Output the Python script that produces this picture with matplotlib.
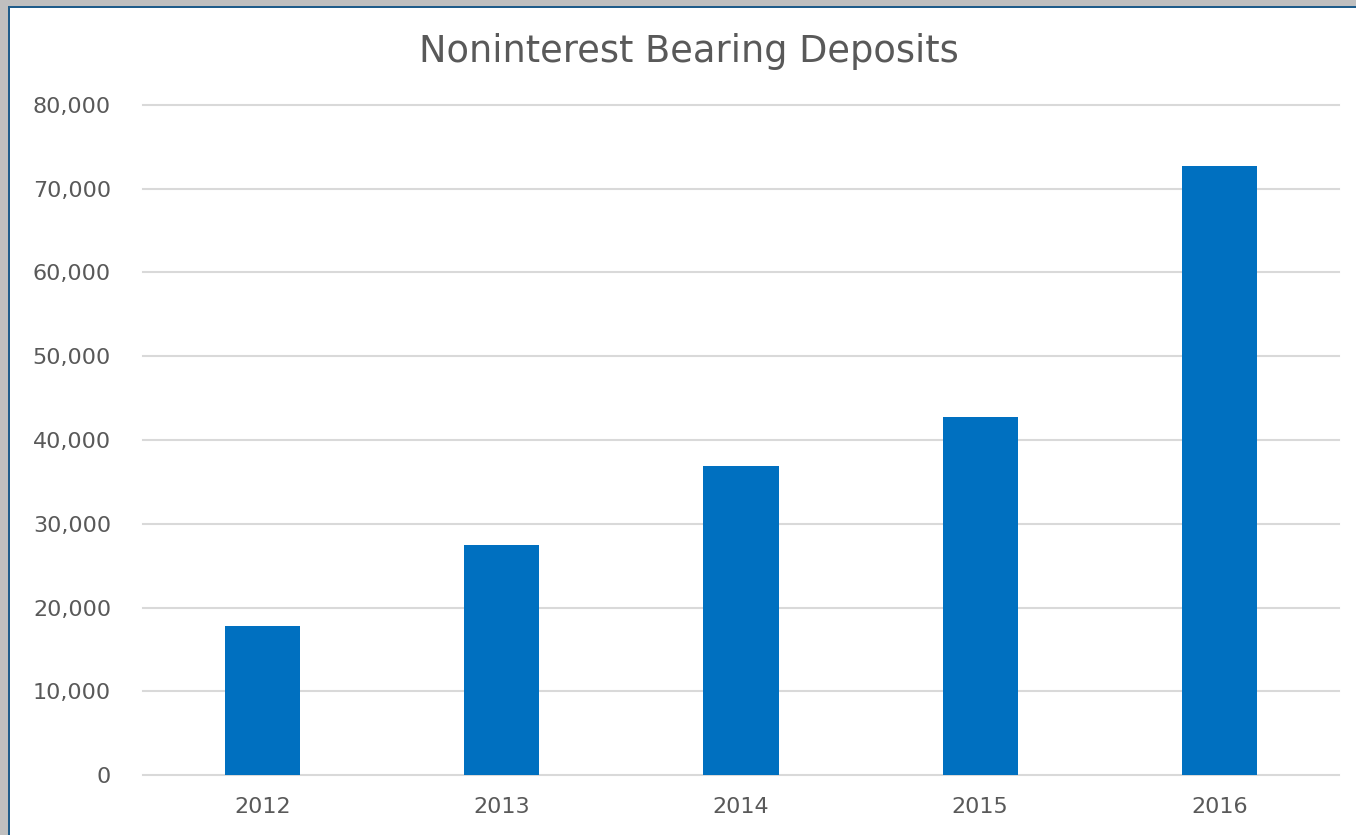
import matplotlib.pyplot as plt
from matplotlib.patches import Rectangle
from matplotlib.ticker import FuncFormatter

years = ["2012", "2013", "2014", "2015", "2016"]
deposits = [17800, 27500, 36900, 42800, 72700]
yticks = [0, 10000, 20000, 30000, 40000, 50000, 60000, 70000, 80000]

W, H = 1356, 835
text_col = "#595959"

fig = plt.figure(figsize=(W / 100, H / 100), dpi=100)
fig.patch.set_facecolor("#bfbfbf")
# white chart area with dark blue border on top/left
fig.patches.append(Rectangle((8 / W, 0), 1, 1 - 6 / H, transform=fig.transFigure,
                             facecolor="#1f5c8a", edgecolor="none", zorder=-10))
fig.patches.append(Rectangle((10 / W, 0), 1, 1 - 8 / H, transform=fig.transFigure,
                             facecolor="white", edgecolor="none", zorder=-9))

ax = fig.add_axes([143 / W, 1 - 775 / H, (1339 - 143) / W, (775 - 105) / H])
ax.set_facecolor("none")
ax.bar(range(len(years)), deposits, width=0.315, color="#0070c0", zorder=3)

ax.set_xlim(-0.5, len(years) - 0.5)
ax.set_ylim(0, 80000)
ax.set_yticks(yticks)
ax.yaxis.set_major_formatter(FuncFormatter(lambda v, p: f"{int(v):,}"))
ax.set_xticks(range(len(years)))
ax.set_xticklabels(years)
ax.grid(axis="y", color="#d9d9d9", linewidth=1.5, zorder=0)
for gl in ax.get_ygridlines():
    gl.set_clip_on(False)
for s in ax.spines.values():
    s.set_visible(False)
ax.tick_params(axis="both", length=0, labelsize=16, labelcolor=text_col)
ax.tick_params(axis="y", pad=23)
ax.tick_params(axis="x", pad=16)

fig.text(689 / W, 1 - 52 / H, "Noninterest Bearing Deposits", ha="center", va="center",
         fontsize=26.5, color=text_col)

fig.savefig("out.png", dpi=100)
